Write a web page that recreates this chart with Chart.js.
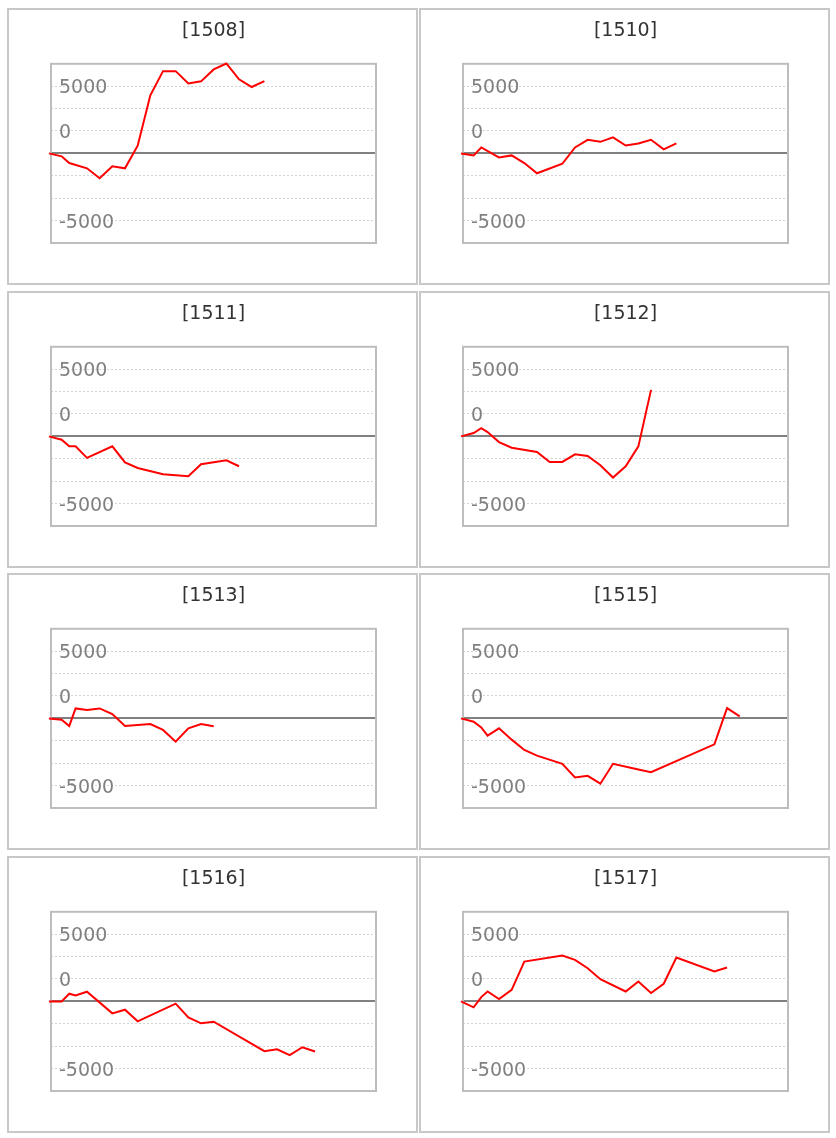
<!DOCTYPE html>
<html>
<head>
<meta charset="utf-8">
<script src="https://cdn.jsdelivr.net/npm/chart.js@4.4.0/dist/chart.umd.min.js"></script>
<style>
  body { margin: 0; background: #fff; }
  .panel { position: absolute; width: 411px; height: 277px; border: 2px solid #c8c8c8; box-sizing: border-box; }
  .panel canvas { display: block; }
</style>
</head>
<body>
<script>
// x positions of the points (shared by every panel)
const days = [0, 1, 1.6, 2.1, 3, 4, 5, 6, 7, 8, 9, 10, 11, 12, 13, 14, 15, 16, 17, 18, 19, 20, 21, 22];

const codes = ['1508', '1510', '1511', '1512', '1513', '1515', '1516', '1517'];

const s1508 = [0, -220, -720, null, -1110, -1850, -960, -1110, 570, 4320, 6120, 6120, 5210, 5360, 6250, 6690, 5510, 4940, 5380];
const s1510 = [0, -150, 440, null, -300, -150, -720, -1480, null, -770, 440, 1010, 860, 1190, 590, 740, 1010, 300, 740];
const s1511 = [0, -250, -740, -740, -1600, null, -740, -1930, -2350, null, -2810, null, -2960, -2070, null, -1780, -2220];
const s1512 = [0, 250, 620, 320, -420, -840, null, -1160, -1900, -1900, -1330, -1460, -2150, -3060, -2220, -740, 3460];
const s1513 = [0, -100, -570, 740, 620, 740, 320, -570, null, -420, -860, -1730, -740, -420, -590];
const s1515 = [0, -250, -670, -1280, -740, -1580, -2350, -2770, null, -3380, -4390, -4270, -4860, -3380, null, -3800, -4000, null, null, null, null, -1930, 770, 150];
const s1516 = [0, 0, 570, 440, 720, null, -890, -620, -1480, null, null, -170, -1190, -1630, -1510, null, null, null, -3700, -3560, -4000, -3410, -3730];
const s1517 = [0, -440, 320, 740, 170, 860, 2960, null, null, 3410, 3090, 2470, 1650, null, 740, 1480, 620, 1310, 3260, null, null, 2220, 2520];

const series = [s1508, s1510, s1511, s1512, s1513, s1515, s1516, s1517];

// y ticks as they appear on the picture
const yTickValues = [-20000 / 3, -5000, -10000 / 3, -5000 / 3, 0, 5000 / 3, 10000 / 3, 5000, 20000 / 3];
const yTickLabels = ['', '-5000', '', '', '', '0', '', '5000', ''];

const lefts = [7, 419];
const tops = [8, 291, 573, 856];

const frame = {
  id: 'frame',
  beforeDatasetsDraw(chart) {
    const { ctx, chartArea: a } = chart;
    ctx.save();
    ctx.strokeStyle = '#bdbdbd';
    ctx.lineWidth = 2;
    ctx.strokeRect(a.left, a.top, a.right - a.left, a.bottom - a.top);
    ctx.restore();
  }
};

codes.forEach((code, i) => {
  const div = document.createElement('div');
  div.className = 'panel';
  div.style.left = lefts[i % 2] + 'px';
  div.style.top = tops[Math.floor(i / 2)] + 'px';
  const canvas = document.createElement('canvas');
  canvas.width = 407;
  canvas.height = 273;
  div.appendChild(canvas);
  document.body.appendChild(div);

  const vals = series[i];
  const points = vals.map((v, k) => ({ x: days[k], y: v }));

  new Chart(canvas, {
    type: 'line',
    data: {
      datasets: [{
        data: points,
        borderColor: '#ff0000',
        borderWidth: 2,
        pointRadius: 0,
        tension: 0,
        spanGaps: true,
        clip: false
      }]
    },
    options: {
      responsive: false,
      animation: false,
      events: [],
      layout: { padding: { left: 42, right: 40, top: 0, bottom: 40 } },
      plugins: {
        legend: { display: false },
        tooltip: { enabled: false },
        title: {
          display: true,
          text: '[' + code + ']',
          color: '#333333',
          font: { family: 'DejaVu Sans', size: 19, weight: 'normal' },
          padding: { top: 10, bottom: 21 }
        }
      },
      scales: {
        x: {
          type: 'linear',
          min: 0.16,
          max: 25.81,
          position: { y: 0 },
          ticks: { display: false },
          grid: { drawOnChartArea: false, drawTicks: false },
          border: { display: true, color: '#808080', width: 2 }
        },
        y: {
          type: 'linear',
          min: -20000 / 3,
          max: 20000 / 3,
          afterBuildTicks: (s) => { s.ticks = yTickValues.map(v => ({ value: v })); },
          afterFit: (s) => { s.width = 0; },
          border: { display: false, dash: [2, 2] },
          grid: {
            drawTicks: false,
            color: (ctx) => {
              const v = ctx.tick ? ctx.tick.value : 0;
              return (v === 0 || Math.abs(v) > 6000) ? 'rgba(0,0,0,0)' : '#d2d2d2';
            }
          },
          ticks: {
            mirror: true,
            padding: 8,
            labelOffset: 2,
            autoSkip: false,
            color: '#808080',
            font: { family: 'DejaVu Sans', size: 19 },
            callback: (v, idx) => yTickLabels[idx]
          }
        }
      }
    },
    plugins: [frame]
  });
});
</script>
</body>
</html>
